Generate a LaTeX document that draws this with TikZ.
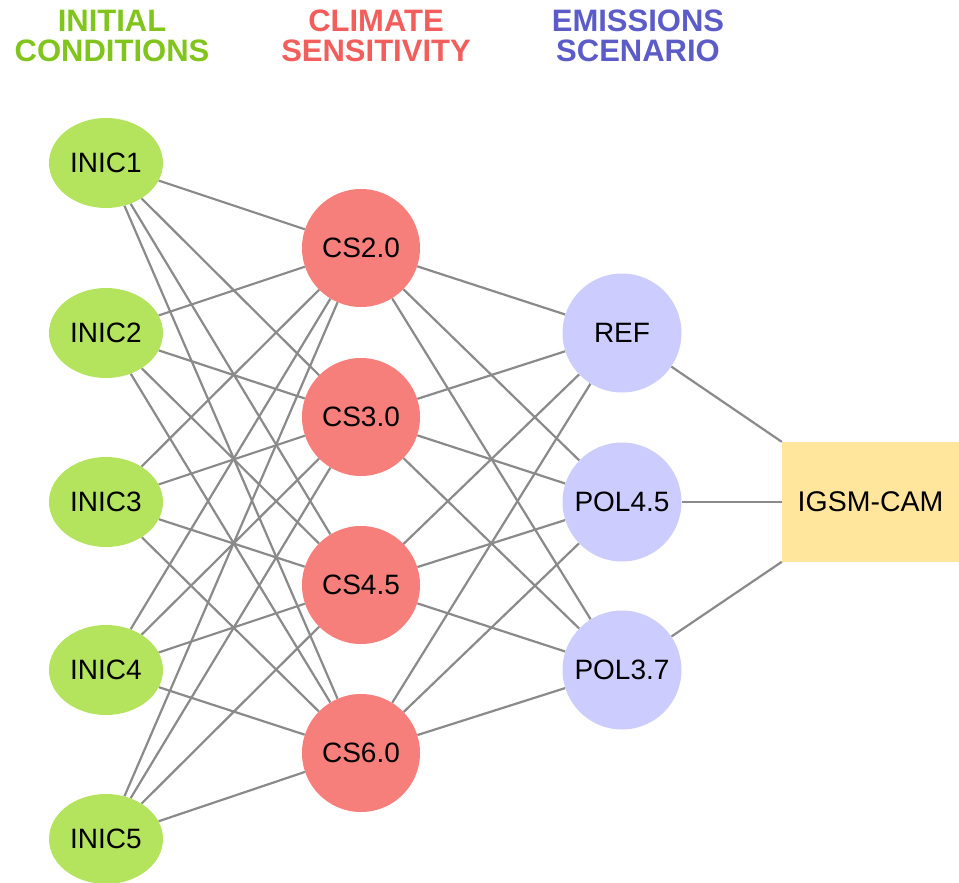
\documentclass[tikz,border=0pt]{standalone}
\usepackage{fontspec}
\setmainfont{Liberation Sans}
\usetikzlibrary{shapes.geometric,backgrounds}
\definecolor{hgreen}{HTML}{80C41C}
\definecolor{hred}{HTML}{F25E5C}
\definecolor{hblue}{HTML}{5C5CC8}
\definecolor{fgreen}{HTML}{B4E35E}
\definecolor{fred}{HTML}{F67E7B}
\definecolor{fblue}{HTML}{CCCCFF}
\definecolor{fbox}{HTML}{FFE69C}
\definecolor{edgegray}{HTML}{8A8A8A}
\begin{document}
\begin{tikzpicture}[x=1pt,y=-1pt,
  header/.style={font=\fontsize{31}{30}\selectfont\bfseries, align=center},
  inic/.style={ellipse, fill=fgreen, minimum width=114pt, minimum height=90pt, inner sep=0pt, font=\fontsize{28}{30}\selectfont},
  cs/.style={circle, fill=fred, minimum size=118pt, inner sep=0pt, font=\fontsize{28}{30}\selectfont},
  em/.style={circle, fill=fblue, minimum size=119pt, inner sep=0pt, font=\fontsize{28}{30}\selectfont},
  model/.style={rectangle, fill=fbox, minimum width=177pt, minimum height=120pt, inner sep=0pt, font=\fontsize{28.5}{30}\selectfont},
  link/.style={draw=edgegray, line width=2.2pt}]
\useasboundingbox (0,0) rectangle (959,883);
\node[header, text=hgreen] (h1) at (112,36) {INITIAL\\CONDITIONS};
\node[header, text=hred] (h2) at (376,36) {CLIMATE\\SENSITIVITY};
\node[header, text=hblue] (h3) at (638,36) {EMISSIONS\\SCENARIO};

\node[inic] (i1) at (106,163) {INIC1};
\node[inic] (i2) at (106,333) {INIC2};
\node[inic] (i3) at (106,502) {INIC3};
\node[inic] (i4) at (106,670) {INIC4};
\node[inic] (i5) at (106,839) {INIC5};

\node[cs] (c1) at (361,248) {CS2.0};
\node[cs] (c2) at (361,417) {CS3.0};
\node[cs] (c3) at (361,585) {CS4.5};
\node[cs] (c4) at (361,753) {CS6.0};

\node[em] (e1) at (622,333) {REF};
\node[em] (e2) at (622,502) {POL4.5};
\node[em] (e3) at (622,670) {POL3.7};

\node[model] (m) at (870.5,502) {IGSM-CAM};

\begin{scope}[on background layer]
\foreach \i in {i1,i2,i3,i4,i5}
  \foreach \c in {c1,c2,c3,c4}
    \draw[link] (\i) -- (\c);
\foreach \c in {c1,c2,c3,c4}
  \foreach \e in {e1,e2,e3}
    \draw[link] (\c) -- (\e);
\foreach \e in {e1,e2,e3}
  \draw[link] (\e) -- (m);
\end{scope}
\end{tikzpicture}
\end{document}
